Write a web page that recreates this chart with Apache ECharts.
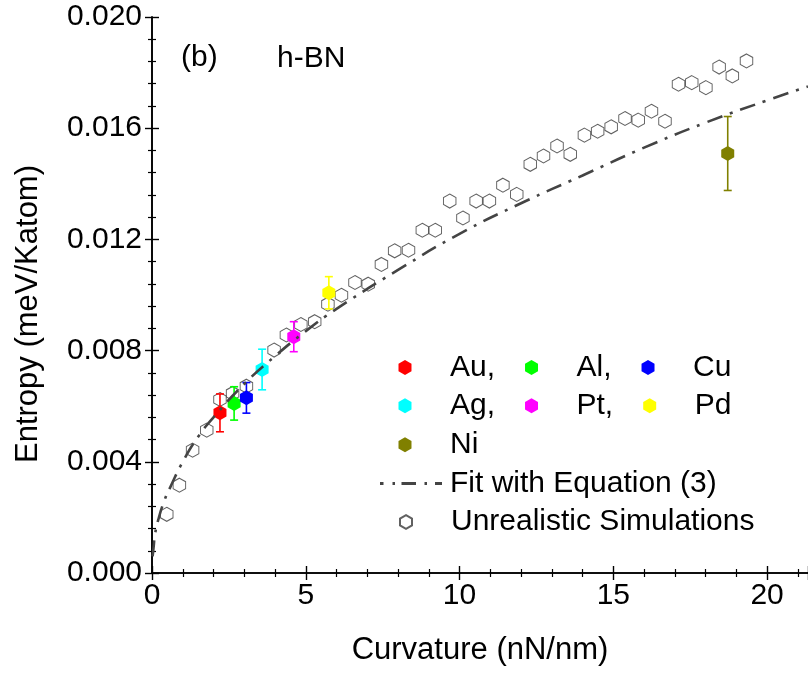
<!DOCTYPE html>
<html>
<head>
<meta charset="utf-8">
<script src="https://cdn.jsdelivr.net/npm/echarts@6/dist/echarts.min.js"></script>
<style>
  html, body { margin: 0; padding: 0; background: #fff; }
  #chart { width: 808px; height: 675px; }
</style>
</head>
<body>
<div id="chart"></div>
<script>
// Metal substrates: curvature (nN/nm), entropy (meV/Katom) and error half-width
const metalNames = ['Au,', 'Al,', 'Cu', 'Ag,', 'Pt,', 'Pd', 'Ni'];
const metalX = [2.21, 2.67, 3.07, 3.58, 4.61, 5.75, 18.72];
const metalY = [0.00576, 0.0061, 0.0063, 0.00732, 0.0085, 0.01008, 0.01509];
const metalErr = [0.00068, 0.0006, 0.00055, 0.00073, 0.00054, 0.00058, 0.00133];
const metalColors = ['#ff0000', '#00ff00', '#0000ff', '#00ffff', '#ff00ff', '#ffff00', '#808000'];

// Unrealistic simulations
const simX = [0.48, 0.89, 1.32, 1.78, 2.21, 2.62, 3.07, 3.97, 4.37, 4.84, 5.29, 5.72, 6.16, 6.6, 7.03,
  7.46, 7.89, 8.34, 8.79, 9.21, 9.68, 10.11, 10.54, 10.97, 11.41, 11.86, 12.3, 12.73, 13.17, 13.6,
  14.06, 14.49, 14.93, 15.38, 15.81, 16.24, 16.68, 17.12, 17.55, 18.01, 18.44, 18.87, 19.33];
const simY = [0.00211, 0.00316, 0.00442, 0.00514, 0.00624, 0.00646, 0.00672, 0.00802, 0.00856, 0.00894,
  0.00904, 0.00967, 0.00999, 0.01045, 0.01039, 0.0111, 0.01159, 0.01161, 0.01233, 0.01233, 0.01338,
  0.01277, 0.01338, 0.01338, 0.01395, 0.01362, 0.0147, 0.015, 0.01536, 0.01506, 0.01575, 0.01589,
  0.01605, 0.01635, 0.01629, 0.01661, 0.01625, 0.01758, 0.01764, 0.01746, 0.0182, 0.01788, 0.01842];

// Fit with Equation (3)
const fitX = [0.02, 0.05, 0.1, 0.2, 0.4, 0.6, 1, 1.5, 2, 3, 4, 5, 6, 8, 10, 12, 14, 16, 18, 20, 21.33];
const fitY = [0.0006, 0.0009, 0.0014, 0.0019, 0.0026, 0.0031, 0.004, 0.0049, 0.0056, 0.0068, 0.0078,
  0.0087, 0.0095, 0.0109, 0.0122, 0.0133, 0.0143, 0.0153, 0.0162, 0.017, 0.0175];

const xTicks = [0, 5, 10, 15, 20];
const yTicks = ['0.000', '0.004', '0.008', '0.012', '0.016', '0.020'];

const FONT = "'Liberation Sans', Arial, sans-serif";
const HEX = 'path://M0,-1L0.866,-0.5L0.866,0.5L0,1L-0.866,0.5L-0.866,-0.5Z';
// dash-dot swatch for the fit entry in the legend (62 x 3 box)
const DASHDOT_ICON = 'path://M0,0H3.5V3H0Z M12.5,0H15V3H12.5Z M21.5,0H36V3H21.5Z M44.5,0H47V3H44.5Z M55,0H62V3H55Z';

const chart = echarts.init(document.getElementById('chart'), null, { renderer: 'canvas' });

const axisCommon = {
  axisLine: { show: true, lineStyle: { color: '#000', width: 1.6 } },
  axisTick: { show: true, inside: true, length: 7, lineStyle: { color: '#000', width: 1.4 } },
  minorTick: { show: true, splitNumber: 5, length: 4, lineStyle: { color: '#000', width: 1.2 } },
  splitLine: { show: false },
  minorSplitLine: { show: false }
};

const X_MAX = 21.33;

const metalSeries = metalNames.map((name, i) => ({
  name: name,
  type: 'scatter',
  symbol: HEX,
  symbolSize: [13, 15],
  itemStyle: { color: metalColors[i], opacity: 1 },
  z: 4,
  data: [[metalX[i], metalY[i]]]
}));

const legendText = { fontSize: 30, color: '#000', fontFamily: FONT };

const option = {
  animation: false,
  backgroundColor: '#fff',
  grid: { left: 152, top: 17, width: 657, height: 556, containLabel: false },
  xAxis: [
    Object.assign({}, axisCommon, {
      type: 'value', min: 0, max: X_MAX, interval: 5, position: 'bottom',
      name: 'Curvature (nN/nm)', nameLocation: 'middle', nameGap: 62,
      nameTextStyle: { fontSize: 31, color: '#000', fontFamily: FONT },
      axisLabel: {
        fontSize: 30, color: '#000', fontFamily: FONT, margin: 8, showMaxLabel: false,
        formatter: v => (xTicks.indexOf(v) >= 0 ? String(v) : '')
      }
    }),
    Object.assign({}, axisCommon, {
      type: 'value', min: 0, max: X_MAX, interval: 5, position: 'top',
      axisLabel: { show: false }
    })
  ],
  yAxis: [
    Object.assign({}, axisCommon, {
      type: 'value', min: 0, max: 0.02, interval: 0.004, position: 'left',
      name: 'Entropy (meV/Katom)', nameLocation: 'middle', nameGap: 108, nameRotate: 90,
      nameTextStyle: { fontSize: 31, color: '#000', fontFamily: FONT, padding: [0, 38, 0, 0] },
      axisLabel: {
        fontSize: 30, color: '#000', fontFamily: FONT, margin: 10,
        formatter: v => yTicks[Math.round(v / 0.004)]
      }
    }),
    Object.assign({}, axisCommon, {
      type: 'value', min: 0, max: 0.02, interval: 0.004, position: 'right',
      axisLabel: { show: false }
    })
  ],
  legend: [
    { data: ['Au,', 'Al,', 'Cu'], left: 398.5, top: 352.5 },
    { data: ['Ag,', 'Pt,', 'Pd'], left: 398.5, top: 390.8 },
    { data: ['Ni'], left: 398.5, top: 429.8 }
  ].map(l => Object.assign({
    orient: 'horizontal', padding: 0, itemGap: 30, itemWidth: 13, itemHeight: 15,
    selectedMode: false, textStyle: Object.assign({ padding: [0, 0, 0, 33.5] }, legendText)
  }, l)).concat([
    {
      data: [{ name: 'Fit with Equation (3)', icon: DASHDOT_ICON }], left: 380, top: 468.5,
      orient: 'horizontal', padding: 0, itemWidth: 62, itemHeight: 3, selectedMode: false,
      itemStyle: { color: '#444' },
      textStyle: Object.assign({ padding: [0, 0, 0, 3] }, legendText)
    },
    {
      data: ['Unrealistic Simulations'], left: 399, top: 507, orient: 'horizontal', padding: 0,
      itemWidth: 12, itemHeight: 14, selectedMode: false,
      textStyle: Object.assign({ padding: [0, 0, 0, 34] }, legendText)
    }
  ]),
  graphic: [
    { type: 'text', left: 181, top: 43, style: { text: '(b)', fontSize: 30, fill: '#000', fontFamily: FONT } },
    { type: 'text', left: 277, top: 44, style: { text: 'h-BN', fontSize: 30, fill: '#000', fontFamily: FONT } }
  ],
  series: [
    {
      name: 'Unrealistic Simulations',
      type: 'scatter',
      symbol: HEX,
      symbolSize: [12.5, 14],
      itemStyle: { color: 'rgba(255,255,255,0)', borderColor: '#3a3a3a', borderWidth: 1 },
      z: 2,
      data: simX.map((x, i) => [x, simY[i]])
    },
    {
      name: 'errorbars',
      type: 'custom',
      z: 3,
      silent: true,
      encode: { x: 0, y: 1 },
      data: metalX.map((x, i) => [x, metalY[i], metalErr[i]]),
      renderItem: function (params, api) {
        const x = api.value(0), y = api.value(1), e = api.value(2);
        const hi = api.coord([x, y + e]);
        const lo = api.coord([x, y - e]);
        const c = metalColors[params.dataIndex];
        const st = { stroke: c, lineWidth: 1.6 };
        const w = 4;
        return {
          type: 'group',
          children: [
            { type: 'line', shape: { x1: hi[0], y1: hi[1], x2: lo[0], y2: lo[1] }, style: st },
            { type: 'line', shape: { x1: hi[0] - w, y1: hi[1], x2: hi[0] + w, y2: hi[1] }, style: st },
            { type: 'line', shape: { x1: lo[0] - w, y1: lo[1], x2: lo[0] + w, y2: lo[1] }, style: st }
          ]
        };
      }
    }
  ].concat(metalSeries).concat([
    {
      name: 'Fit with Equation (3)',
      type: 'line',
      smooth: true,
      showSymbol: false,
      symbol: 'none',
      z: 6,
      lineStyle: { color: '#444', width: 2.6, type: [16, 8, 3, 8] },
      itemStyle: { color: '#444' },
      data: fitX.map((x, i) => [x, fitY[i]])
    }
  ])
};

chart.setOption(option);
</script>
</body>
</html>
